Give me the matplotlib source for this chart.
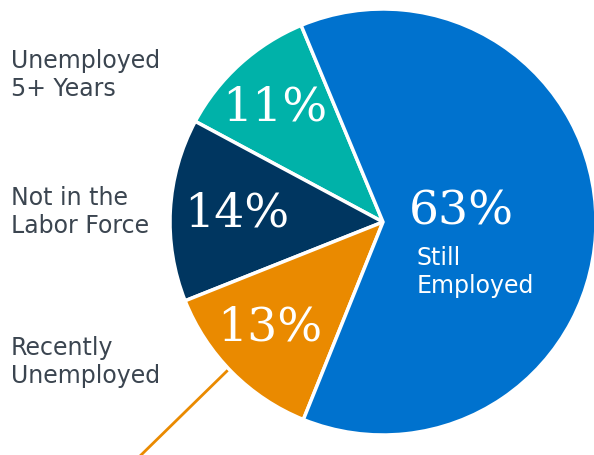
import matplotlib.pyplot as plt

# share of workers by status, counterclockwise from the top-left wedge
labels = ["Unemployed\n5+ Years", "Not in the\nLabor Force", "Recently\nUnemployed", "Still\nEmployed"]
values = [11, 14, 13, 63]
pct_text = ["11%", "14%", "13%", "63%"]
colors = ["#00B2A9", "#003660", "#EA8A00", "#0072CE"]

fig = plt.figure(figsize=(5.94, 4.55), dpi=100)
ax = fig.add_axes([0, 0, 1, 1])

# pie laid out in pixel units of the figure
cx, cy, r = 383, 233, 213
wedges, _ = ax.pie(values, colors=colors, startangle=112.6, counterclock=True,
                   center=(cx, cy), radius=r,
                   wedgeprops=dict(edgecolor="white", linewidth=2.5))
ax.set_xlim(0, 594)
ax.set_ylim(0, 455)
ax.set_aspect("equal")
ax.axis("off")

# leader line coming off the orange slice
ax.plot([228, 138], [455 - 370, 455 - 458], color="#EA8A00", lw=2, zorder=0,
        solid_capstyle="butt", clip_on=True)

# percentages inside the slices
pct_pos = [(275, 455 - 108), (237, 455 - 214), (270, 455 - 328), (461, 455 - 212)]
for t, (x, y) in zip(pct_text, pct_pos):
    ax.text(x, y, t, color="white", fontsize=34, family="DejaVu Serif",
            ha="center", va="center")

# category names on the left (y = baseline of the last line)
txt_gray = "#3B4550"
left_pos = [455 - 96, 455 - 233, 455 - 383]
for lab, y in zip(labels[:3], left_pos):
    ax.text(11, y, lab, color=txt_gray, fontsize=17, ha="left", va="baseline",
            linespacing=1.2)

ax.text(417, 455 - 293, labels[3], color="white", fontsize=17, ha="left",
        va="baseline", linespacing=1.2)

fig.savefig("out.png", dpi=100)
